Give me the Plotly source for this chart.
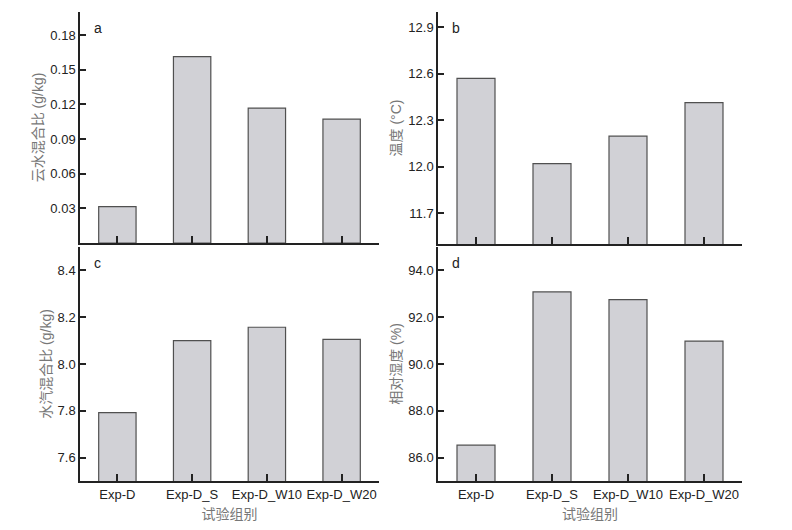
import plotly.graph_objects as go

groups = ["Exp-D", "Exp-D_S", "Exp-D_W10", "Exp-D_W20"]
cloud_water = [0.0315, 0.1613, 0.1168, 0.1073]
temperature = [12.571, 12.02, 12.197, 12.414]
vapor = [7.792, 8.100, 8.157, 8.105]
rel_humidity = [86.53, 93.08, 92.75, 90.98]

panels = [
    ("a", cloud_water, "云水混合比 (g/kg)", [0, 0.2], [0.03, 0.06, 0.09, 0.12, 0.15, 0.18], ".2f"),
    ("b", temperature, "温度 (°C)", [11.5, 13.0], [11.7, 12.0, 12.3, 12.6, 12.9], ".1f"),
    ("c", vapor, "水汽混合比 (g/kg)", [7.5, 8.5], [7.6, 7.8, 8.0, 8.2, 8.4], ".1f"),
    ("d", rel_humidity, "相对湿度 (%)", [85, 95], [86, 88, 90, 92, 94], ".1f"),
]

W, H = 792, 530
# pixel boxes (left, right, top, bottom) of each plot area
boxes = [(80, 379, 12, 243), (438, 742, 12, 244), (80, 379, 247, 481), (438, 742, 247, 481)]

FONT = "Liberation Sans, Arial, Noto Sans CJK SC"
fig = go.Figure()

for i, ((letter, vals, title, rng, ticks, fmt), (l, r, t, b)) in enumerate(zip(panels, boxes)):
    n = "" if i == 0 else str(i + 1)
    fig.add_trace(go.Bar(
        x=groups, y=vals, xaxis="x" + n, yaxis="y" + n,
        marker=dict(color="#d1d1d6", line=dict(color="#505050", width=1.2)),
        width=0.5, showlegend=False,
    ))
    bottom_row = i >= 2
    fig.update_layout({
        "xaxis" + n: dict(
            domain=[l / W, r / W], anchor="y" + n, range=[-0.5, 3.5],
            showline=True, linecolor="#222222", linewidth=1.5,
            ticks="inside", ticklen=7, tickwidth=1.5, tickcolor="#222222",
            showticklabels=bottom_row, showgrid=False, zeroline=False,
            ticklabelstandoff=1,
            tickfont=dict(size=13, color="#222222", family=FONT),
            title=dict(text="试验组别" if bottom_row else "", standoff=8,
                       font=dict(size=14, color="#777777", family=FONT)),
        ),
        "yaxis" + n: dict(
            domain=[1 - b / H, 1 - t / H], anchor="x" + n, range=rng,
            tickvals=ticks, tickformat=fmt,
            showline=True, linecolor="#222222", linewidth=1.5,
            ticks="inside", ticklen=6, tickwidth=1.5, tickcolor="#222222",
            showgrid=False, zeroline=False,
            tickfont=dict(size=13, color="#222222", family=FONT),
            title=dict(text=title, standoff=3,
                       font=dict(size=14, color="#777777", family=FONT)),
        ),
    })
    fig.add_annotation(
        x=(l + 12) / W, y=1 - (t + 16) / H, xref="paper", yref="paper",
        text=letter, showarrow=False, xanchor="left", yanchor="middle",
        font=dict(size=14, color="#222222", family=FONT),
    )

fig.update_layout(
    width=W, height=H,
    margin=dict(l=0, r=0, t=0, b=0),
    paper_bgcolor="white", plot_bgcolor="white",
    bargap=0.5,
)

# drop the browser's default body margin so the figure fills the window
fig.write_html("out.html", config={"displayModeBar": False},
               post_script="document.body.style.margin='0';")
